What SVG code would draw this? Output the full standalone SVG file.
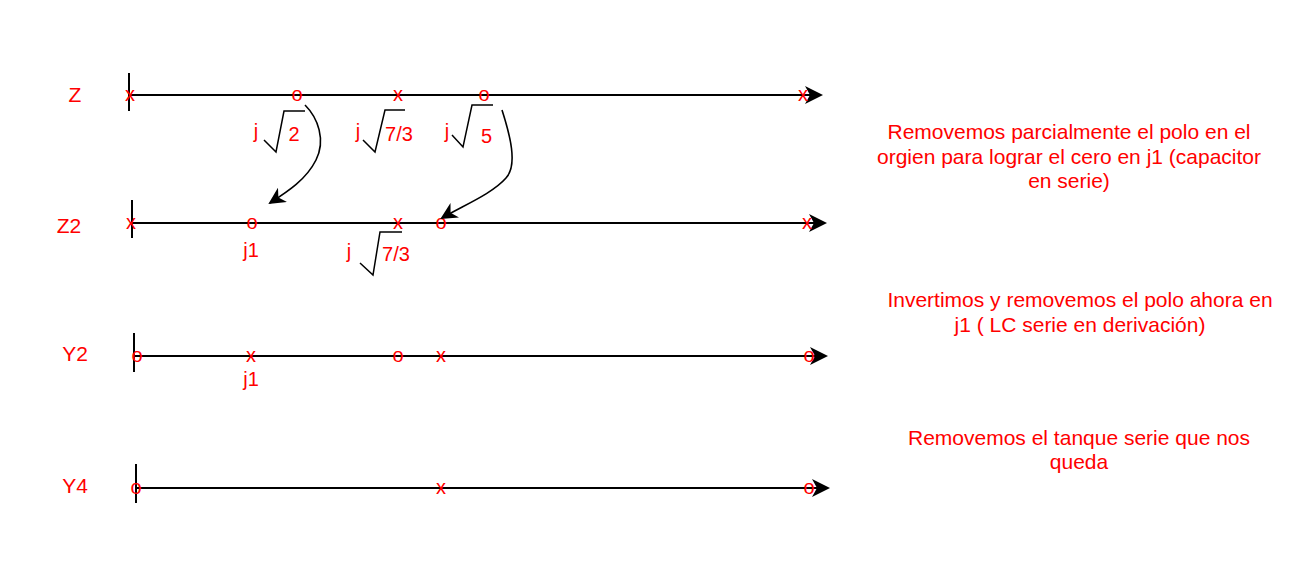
<svg xmlns="http://www.w3.org/2000/svg" width="1291" height="567" viewBox="0 0 1291 567">
<style>
text{font-family:"Liberation Sans",Arial,sans-serif;fill:#FF0000}
.lbl{font-size:21px;text-anchor:middle}
.mk{font-size:20px;text-anchor:middle}
.sm{font-size:20px;text-anchor:middle}
.note{font-size:21px;text-anchor:middle}
.axis{stroke:#000;stroke-width:2;fill:none}
.tick{stroke:#000;stroke-width:2}
.rad{stroke:#000;stroke-width:1.5;fill:none}
.conn{stroke:#000;stroke-width:1.6;fill:none}
</style>
<defs>
<marker id="arr" viewBox="-18 -9 18 18" refX="-3" refY="0" markerWidth="18" markerHeight="18" markerUnits="userSpaceOnUse" orient="auto">
<path d="M0,0 L-18,-9 L-13,0 L-18,9 Z" fill="#000"/>
</marker>
<marker id="arr2" viewBox="-17 -8.5 17 17" refX="-2" refY="0" markerWidth="17" markerHeight="17" markerUnits="userSpaceOnUse" orient="auto">
<path d="M0,0 L-17,-8.5 L-12,0 L-17,8.5 Z" fill="#000"/>
</marker>
</defs>

<g id="row-Z">
<text class="lbl" x="75" y="102">Z</text>
<line class="tick" x1="129" y1="73" x2="129" y2="111"/>
<line class="axis" x1="129" y1="95" x2="820" y2="95" marker-end="url(#arr)"/>
<text class="mk" x="130" y="100.5">x</text>
<text class="mk" x="297" y="100.5">o</text>
<text class="mk" x="398" y="100.5">x</text>
<text class="mk" x="484" y="100.5">o</text>
<text class="mk" x="803" y="100.5">x</text>
</g>

<g id="Z-sqrt2">
<text class="sm" x="256" y="138">j</text>
<polyline class="rad" points="264,140 276,152 284,111 305,111"/>
<text class="sm" x="294" y="141">2</text>
</g>
<g id="Z-sqrt73">
<text class="sm" x="358" y="138">j</text>
<polyline class="rad" points="363,140 375,152 385,110 405,110"/>
<text class="sm" x="399" y="141">7/3</text>
</g>
<g id="Z-sqrt5">
<text class="sm" x="447" y="138">j</text>
<polyline class="rad" points="452,135 463,147 472,105 493,105"/>
<text class="sm" x="486.5" y="143">5</text>
</g>

<g id="row-Z2">
<text class="lbl" x="69" y="233">Z2</text>
<line class="tick" x1="132" y1="200" x2="132" y2="238"/>
<line class="axis" x1="132" y1="223" x2="824" y2="223" marker-end="url(#arr)"/>
<text class="mk" x="131" y="228.5">x</text>
<text class="mk" x="252" y="228.5">o</text>
<text class="mk" x="398" y="228.5">x</text>
<text class="mk" x="441" y="228.5">o</text>
<text class="mk" x="807" y="228.5">x</text>
<text class="sm" x="251" y="257">j1</text>
</g>
<g id="Z2-sqrt73">
<text class="sm" x="349" y="258">j</text>
<polyline class="rad" points="360,263 373,275 380,232 402,232"/>
<text class="sm" x="396" y="261">7/3</text>
</g>

<g id="row-Y2">
<text class="lbl" x="75" y="361">Y2</text>
<line class="tick" x1="134" y1="333" x2="134" y2="372"/>
<line class="axis" x1="134" y1="356" x2="825" y2="356" marker-end="url(#arr)"/>
<text class="mk" x="137" y="361.5">o</text>
<text class="mk" x="251" y="361.5">x</text>
<text class="mk" x="398" y="361.5">o</text>
<text class="mk" x="441" y="361.5">x</text>
<text class="mk" x="809" y="361.5">o</text>
<text class="sm" x="251" y="386">j1</text>
</g>

<g id="row-Y4">
<text class="lbl" x="75" y="493">Y4</text>
<line class="tick" x1="136" y1="464" x2="136" y2="503"/>
<line class="axis" x1="136" y1="488" x2="827" y2="488" marker-end="url(#arr)"/>
<text class="mk" x="136" y="493.5">o</text>
<text class="mk" x="441" y="493.5">x</text>
<text class="mk" x="809" y="493.5">o</text>
</g>

<g id="note-1">
<text class="note" x="1069" y="139">Removemos parcialmente el polo en el</text>
<text class="note" x="1069" y="164">orgien para lograr el cero en j1 (capacitor</text>
<text class="note" x="1069" y="188">en serie)</text>
</g>
<g id="note-2">
<text class="note" x="1080" y="307">Invertimos y removemos el polo ahora en</text>
<text class="note" x="1080" y="332">j1 ( LC serie en derivación)</text>
</g>
<g id="note-3">
<text class="note" x="1079" y="445">Removemos el tanque serie que nos</text>
<text class="note" x="1079" y="469">queda</text>
</g>

<g id="connectors">
<path class="conn" d="M305,105 C318,118 326,140 316,160 C306,180 287,192 270,203" marker-end="url(#arr2)"/>
<path class="conn" d="M502,110 C510,135 518,165 506,178 C492,194 462,206 442,218" marker-end="url(#arr2)"/>
</g>
</svg>
